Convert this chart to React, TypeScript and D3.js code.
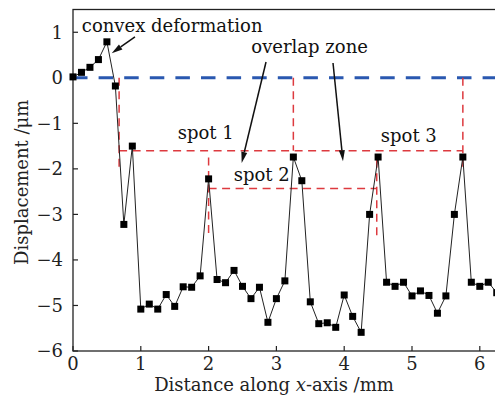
import React from "react";
import * as d3 from "d3";

const xValues = [
  0, 0.125, 0.25, 0.375, 0.5, 0.625, 0.75, 0.875, 1.0, 1.125, 1.25, 1.375, 1.5, 1.625, 1.75, 1.875,
  2.0, 2.125, 2.25, 2.375, 2.5, 2.625, 2.75, 2.875, 3.0, 3.125, 3.25, 3.375, 3.5, 3.625, 3.75, 3.875,
  4.0, 4.125, 4.25, 4.375, 4.5, 4.625, 4.75, 4.875, 5.0, 5.125, 5.25, 5.375, 5.5, 5.625, 5.75, 5.875,
  6.0, 6.125, 6.25,
];
const displacement = [
  0.02, 0.12, 0.23, 0.4, 0.79, -0.18, -3.22, -1.5, -5.08, -4.97, -5.08, -4.76, -5.02, -4.59, -4.6, -4.35,
  -2.22, -4.43, -4.5, -4.23, -4.58, -4.85, -4.6, -5.37, -4.85, -4.46, -1.74, -2.26, -4.92, -5.4, -5.38, -5.48,
  -4.77, -5.24, -5.59, -3.0, -1.74, -4.49, -4.58, -4.49, -4.79, -4.68, -4.78, -5.17, -4.79, -3.0, -1.74, -4.49,
  -4.58, -4.49, -4.72,
];
const xTicks = [0, 1, 2, 3, 4, 5, 6];
const yTicks = [1, 0, -1, -2, -3, -4, -5, -6];

// red dashed guide segments [x1, y1, x2, y2] in data units
const guideSegments = [
  [0.68, 0, 0.68, -1.97],
  [0.68, -1.6, 5.75, -1.6],
  [3.25, 0, 3.25, -1.6],
  [5.75, 0, 5.75, -1.98],
  [2.0, -1.75, 2.0, -3.48],
  [2.0, -2.43, 4.48, -2.43],
  [4.48, -1.8, 4.48, -3.5],
];
const labels = [
  { text: "convex deformation", x: 0.13, y: 1.0 },
  { text: "overlap zone", x: 2.63, y: 0.545 },
  { text: "spot 1", x: 1.545, y: -1.345 },
  { text: "spot 2", x: 2.37, y: -2.27 },
  { text: "spot 3", x: 4.54, y: -1.41 },
];
const arrows = [
  { x1: 0.914, y1: 0.9, x2: 0.571, y2: 0.538 },
  { x1: 2.847, y1: 0.347, x2: 2.488, y2: -1.87 },
  { x1: 3.835, y1: 0.325, x2: 3.982, y2: -1.83 },
];

const W = 495;
const H = 400;
const FONT = "'DejaVu Serif', serif";

export default function App() {
  const x = d3.scaleLinear().domain([0, 6.5]).range([73, 73 + 6.5 * 67.8]);
  const y = d3.scaleLinear().domain([-6, 1.5]).range([351, 9.5]);
  const pts = xValues.map((v, i) => [v, displacement[i]] as [number, number]);
  const line = d3
    .line<[number, number]>()
    .x((d) => x(d[0]))
    .y((d) => y(d[1]));
  const x0 = x(0);
  const x1 = x(6.5);
  const yTop = y(1.5);
  const yBot = y(-6);

  return (
    <svg
      width={W}
      height={H}
      style={{ position: "absolute", left: 0, top: 0, background: "#fff", overflow: "hidden" }}
      fontFamily={FONT}
    >
      {/* frame */}
      <rect x={x0} y={yTop} width={x1 - x0} height={yBot - yTop} fill="none" stroke="#222" strokeWidth={1.3} />
      {/* ticks */}
      {xTicks.map((t) => (
        <g key={"xt" + t}>
          <line x1={x(t)} x2={x(t)} y1={yBot} y2={yBot - 5} stroke="#222" strokeWidth={1.2} />
          <text x={x(t)} y={yBot + 19} fontSize={18} textAnchor="middle" fill="#222">
            {t}
          </text>
        </g>
      ))}
      {yTicks.map((t) => (
        <g key={"yt" + t}>
          <line x1={x0} x2={x0 + 5} y1={y(t)} y2={y(t)} stroke="#222" strokeWidth={1.2} />
          <text x={63} y={y(t)} dy="0.35em" fontSize={18} textAnchor="end" fill="#222">
            {t < 0 ? "\u2212" + Math.abs(t) : String(t)}
          </text>
        </g>
      ))}
      {/* axis titles */}
      <text x={274} y={391} fontSize={18} textAnchor="middle" fill="#222">
        Distance along <tspan fontStyle="italic">x</tspan>-axis /mm
      </text>
      <text
        transform={`translate(22,${(yTop + yBot) / 2 + 2}) rotate(-90)`}
        fontSize={18}
        textAnchor="middle"
        dy="0.35em"
        fill="#222"
      >
        Displacement /μm
      </text>

      {/* zero line */}
      <line x1={x(0)} x2={x1} y1={y(0)} y2={y(0)} stroke="#2a58b0" strokeWidth={3} strokeDasharray="14.5,11.1" />

      {/* red guides */}
      {guideSegments.map((s, i) => (
        <line
          key={"g" + i}
          x1={x(s[0])}
          y1={y(s[1])}
          x2={x(s[2])}
          y2={y(s[3])}
          stroke="#dd3a3f"
          strokeWidth={1.5}
          strokeDasharray="8,5.5"
        />
      ))}

      {/* data */}
      <path d={line(pts) || ""} fill="none" stroke="#222" strokeWidth={1} />
      {pts.map((p, i) => (
        <rect key={"p" + i} x={x(p[0]) - 3.5} y={y(p[1]) - 3.5} width={7} height={7} fill="#000" />
      ))}

      {/* annotations */}
      {labels.map((l, i) => (
        <text key={"l" + i} x={x(l.x)} y={y(l.y)} fontSize={18} fill="#111">
          {l.text}
        </text>
      ))}
      {arrows.map((a, i) => {
        const ax = x(a.x1);
        const ay = y(a.y1);
        const bx = x(a.x2);
        const by = y(a.y2);
        const ang = Math.atan2(by - ay, bx - ax);
        const len = 11;
        const half = 3;
        const baseX = bx - len * Math.cos(ang);
        const baseY = by - len * Math.sin(ang);
        const px = -Math.sin(ang) * half;
        const py = Math.cos(ang) * half;
        return (
          <g key={"a" + i}>
            <line x1={ax} y1={ay} x2={baseX} y2={baseY} stroke="#111" strokeWidth={1.5} />
            <polygon
              points={`${bx},${by} ${baseX + px},${baseY + py} ${baseX - px},${baseY - py}`}
              fill="#111"
            />
          </g>
        );
      })}
    </svg>
  );
}
